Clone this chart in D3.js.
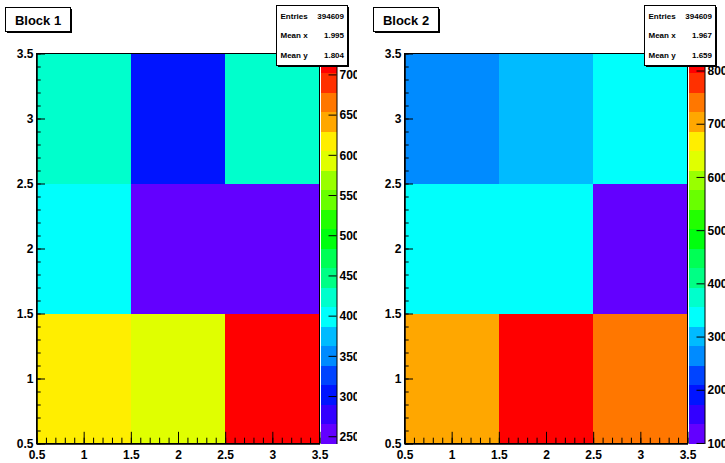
<!DOCTYPE html>
<html>
<head>
<meta charset="utf-8">
<script src="https://cdn.jsdelivr.net/npm/d3@7"></script>
<style>
  body { margin: 0; background: #fff; }
  svg { display: block; }
  text { font-family: "Liberation Sans", Arial, Helvetica, sans-serif; font-weight: bold; fill: #000; }
</style>
</head>
<body>
<div id="chart"></div>
<script>
// bins
var xCenters = [1, 2, 3];
var yCenters = [1, 2, 3];
var binEdges = [0.5, 1.5, 2.5, 3.5];
var axisTicks = [0.5, 1, 1.5, 2, 2.5, 3, 3.5];

// bin contents, rows are y = 1, 2, 3 and columns x = 1, 2, 3
var block1Values = [
  [613, 592, 726],
  [398, 241, 252],
  [420, 300, 430]
];
var block2Values = [
  [700, 832, 740],
  [335, 340, 99],
  [272, 308, 338]
];

var titles = ['Block 1', 'Block 2'];
var block1Stats = [['Entries', '394609'], ['Mean x', '1.995'], ['Mean y', '1.804']];
var block2Stats = [['Entries', '394609'], ['Mean x', '1.967'], ['Mean y', '1.659']];
var block1ZTicks = [250, 300, 350, 400, 450, 500, 550, 600, 650, 700];
var block2ZTicks = [100, 200, 300, 400, 500, 600, 700, 800];

var nContours = 20;

var svg = d3.select('#chart')
            .append('svg')
            .attr('width', 725)
            .attr('height', 463);

// ROOT "pretty" palette : 50 hues violet -> red, picked by 20 contours
function paletteColor(band){
  var idx = Math.floor((band + 0.99) * 50 / nContours);
  var hue = 280 - (idx + 1) * 5.6;
  if (hue < 0) hue = 0;
  return d3.hsl(hue, 1, 0.5).toString();
}

function drawBlock(px, id, title, values, stats, zTicks){
  // pad edge cuts the palette labels, like in the original canvas
  svg.append('clipPath').attr('id', 'clip' + id)
     .append('rect').attr('x', 0).attr('y', 0).attr('width', 357).attr('height', 463);

  var g = svg.append('g')
             .attr('transform', 'translate(' + px + ',0)')
             .attr('clip-path', 'url(#clip' + id + ')');

  var x = d3.scaleLinear().domain([0.5, 3.5]).range([36.5, 319.5]);
  var y = d3.scaleLinear().domain([0.5, 3.5]).range([443.5, 53.5]);

  var flat = d3.merge(values);
  var zmin = d3.min(flat), zmax = d3.max(flat);
  var z = d3.scaleLinear().domain([zmin, zmax]).range([443.5, 53.5]);
  function band(v){
    return Math.min(nContours - 1, Math.floor(0.01 + (v - zmin) / (zmax - zmin) * nContours));
  }

  // cells
  var cells = [];
  values.forEach(function(row, j){
    row.forEach(function(v, i){
      cells.push({ i: i, j: j, v: v });
    });
  });
  g.selectAll('.cell').data(cells).enter()
    .append('rect')
    .attr('class', 'cell')
    .attr('x', function(d){ return x(binEdges[d.i]); })
    .attr('y', function(d){ return y(binEdges[d.j + 1]); })
    .attr('width', function(d){ return x(binEdges[d.i + 1]) - x(binEdges[d.i]); })
    .attr('height', function(d){ return y(binEdges[d.j]) - y(binEdges[d.j + 1]); })
    .attr('fill', function(d){ return paletteColor(band(d.v)); })
    .attr('shape-rendering', 'crispEdges');

  // frame
  g.append('rect')
    .attr('x', 36.5).attr('y', 53.5)
    .attr('width', 283).attr('height', 390)
    .attr('fill', 'none').attr('stroke', '#000').attr('stroke-width', 1);

  // minor ticks
  var minor = d3.range(5, 36).map(function(k){ return k / 10; });
  g.append('g').attr('transform', 'translate(0,443.5)')
    .call(d3.axisBottom(x).tickValues(minor).tickSizeInner(-5.8).tickSizeOuter(0).tickFormat(''));
  g.append('g').attr('transform', 'translate(36.5,0)')
    .call(d3.axisLeft(y).tickValues(minor).tickSizeInner(-4.2).tickSizeOuter(0).tickFormat(''));

  // major ticks + labels
  var xa = g.append('g').attr('transform', 'translate(0,443.5)')
    .call(d3.axisBottom(x).tickValues(axisTicks).tickSizeInner(-11.7).tickSizeOuter(0)
           .tickPadding(7).tickFormat(d3.format('')));
  var ya = g.append('g').attr('transform', 'translate(36.5,0)')
    .call(d3.axisLeft(y).tickValues(axisTicks).tickSizeInner(-8.5).tickSizeOuter(0)
           .tickPadding(3).tickFormat(d3.format('')));
  [xa, ya].forEach(function(a){
    a.selectAll('text').style('font-size', '12px').attr('font-family', null);
    a.selectAll('path, line').attr('stroke', '#000');
  });
  ya.selectAll('text').attr('dy', '0.3em');

  // palette
  var dz = (zmax - zmin) / nContours;
  g.selectAll('.pal').data(d3.range(nContours)).enter()
    .append('rect')
    .attr('class', 'pal')
    .attr('x', 321)
    .attr('width', 15.5)
    .attr('y', function(k){ return z(zmin + (k + 1) * dz); })
    .attr('height', function(k){ return z(zmin + k * dz) - z(zmin + (k + 1) * dz); })
    .attr('fill', function(k){ return paletteColor(k); })
    .attr('shape-rendering', 'crispEdges');

  var za = g.append('g').attr('transform', 'translate(336.5,0)')
    .call(d3.axisRight(z).tickValues(zTicks).tickSizeInner(-8).tickSizeOuter(0).tickPadding(3));
  za.selectAll('text').style('font-size', '12px').attr('font-family', null).attr('dy', '0.35em');
  za.selectAll('path, line').attr('stroke', '#000');

  // stats box
  var sb = g.append('g').attr('transform', 'translate(276.5,5.5)');
  sb.append('rect').attr('x', 1.5).attr('y', 1.5).attr('width', 71).attr('height', 60).attr('fill', '#000');
  sb.append('rect').attr('width', 71).attr('height', 60)
    .attr('fill', '#fff').attr('stroke', '#000');
  sb.selectAll('.lab').data(stats).enter().append('text')
    .attr('x', 4).attr('y', function(d, i){ return 10.5 + i * 19.5; })
    .attr('dy', '0.35em').style('font-size', '8px')
    .text(function(d){ return d[0]; });
  sb.selectAll('.val').data(stats).enter().append('text')
    .attr('x', 67.5).attr('y', function(d, i){ return 10.5 + i * 19.5; })
    .attr('dy', '0.35em').attr('text-anchor', 'end').style('font-size', '8px')
    .text(function(d){ return d[1]; });

  // title box
  var tb = g.append('g').attr('transform', 'translate(5.5,7.5)');
  tb.append('rect').attr('x', 1.5).attr('y', 1.5).attr('width', 65).attr('height', 24).attr('fill', '#000');
  tb.append('rect').attr('width', 65).attr('height', 24).attr('fill', '#fff').attr('stroke', '#000');
  tb.append('text').attr('x', 32.5).attr('y', 12.5).attr('dy', '0.35em')
    .attr('text-anchor', 'middle').style('font-size', '13px')
    .text(title);
}

drawBlock(0, 1, titles[0], block1Values, block1Stats, block1ZTicks);
drawBlock(368, 2, titles[1], block2Values, block2Stats, block2ZTicks);
</script>
</body>
</html>
